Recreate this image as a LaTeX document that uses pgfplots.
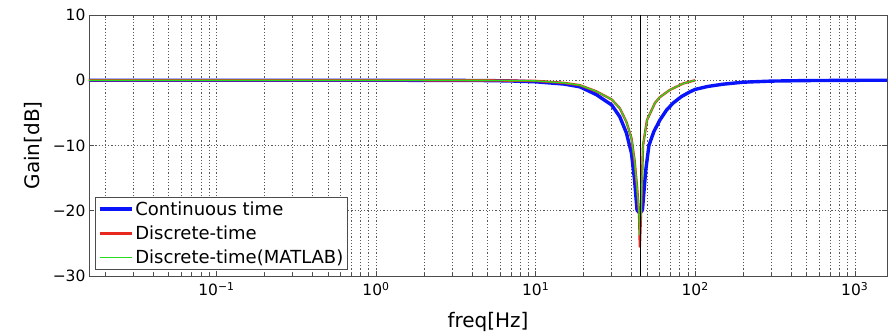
\documentclass[border=0pt]{standalone}
\usepackage{fontspec}
\setmainfont{DejaVu Sans}
\usepackage{pgfplots}
\pgfplotsset{compat=1.18}
\definecolor{cblue}{RGB}{10,20,250}
\definecolor{cred}{RGB}{232,40,30}
\definecolor{cgreen}{RGB}{40,220,30}
\begin{document}
\begin{tikzpicture}
\begin{axis}[
  scale only axis, width=798pt, height=261pt,
  xmode=log, xmin=0.0159155, xmax=1591.55, ymin=-30, ymax=10,
  xtick={0.1,1,10,100,1000},
  xticklabels={10\textsuperscript{−1},10\textsuperscript{0},10\textsuperscript{1},10\textsuperscript{2},10\textsuperscript{3}},
  minor xtick={0.02,0.03,0.04,0.05,0.06,0.07,0.08,0.09,0.2,0.3,0.4,0.5,0.6,0.7,0.8,0.9,2,3,4,5,6,7,8,9,20,30,40,50,60,70,80,90,200,300,400,500,600,700,800,900},
  ytick={-30,-20,-10,0,10},
  yticklabels={−30,−20,−10,0,10},
  grid=both,
  major grid style={black!65, line width=0.6pt, dash pattern=on 1.2pt off 2pt},
  minor grid style={black!65, line width=0.6pt, dash pattern=on 1.2pt off 2pt},
  tick align=inside, tick pos=both,
  major tick length=5pt, minor tick length=3pt,
  every tick/.style={black!70, line width=0.6pt},
  axis line style={black!70, line width=0.9pt},
  tick label style={font=\fontsize{15.5}{15.5}\selectfont},
  xticklabel style={yshift=-3pt},
  xlabel={freq[Hz]}, ylabel={Gain[dB]},
  label style={font=\fontsize{20}{20}\selectfont},
  xlabel style={yshift=-9pt},
  ylabel style={yshift=4pt},
  legend cell align=left,
  legend style={at={(rel axis cs:0.0075,0.023)}, anchor=south west,
    draw=black!70, line width=0.8pt, font=\fontsize{18}{18}\selectfont,
    inner sep=2.5pt, row sep=5pt},
  legend image code/.code={\draw[#1] (0pt,0pt) -- (32pt,0pt);},
]
\coordinate (bl) at (rel axis cs:0,0);
\coordinate (tr) at (rel axis cs:1,1);
\addplot[cblue, line width=3.4pt, line join=round] coordinates {
(0.0159155,0) (0.1,0) (1,0) (3,-0.02) (5,-0.05) (7,-0.11) (10,-0.24) (15,-0.58)
(18.9,-1.0) (24,-2.2) (30,-3.8) (33.7,-5.6) (37.1,-8.1) (39.9,-11.2) (41.7,-15.3)
(43.2,-19.9) (45,-20.4) (46.7,-19.9) (49,-13.8) (51.3,-10) (55,-7.9) (60.1,-6.1)
(66,-4.6) (72.7,-3.5) (82,-2.5) (92.3,-1.8) (100,-1.4) (120,-0.95) (150,-0.6)
(200,-0.3) (300,-0.13) (500,-0.05) (1000,-0.01) (1591.55,0)
};
\addlegendentry{Continuous time}
\addplot[cred, line width=2.4pt, line join=round] coordinates {
(0.0159155,0) (0.1,0) (1,0) (5,-0.02) (10,-0.1) (15,-0.4) (18.9,-0.75) (24,-1.7)
(30,-2.95) (33.7,-4.3) (37.1,-6.4) (39.9,-8.9) (41.7,-12.3) (43.2,-16.3) (44.5,-20.4)
(45,-25.5) (45.8,-20.2) (47.1,-10) (49.9,-6.1) (55.9,-3.5) (60,-2.6) (69.2,-1.5)
(84,-0.5) (95,-0.15) (100,0)
};
\addlegendentry{Discrete-time}
\addplot[cgreen, line width=1.3pt, line join=round] coordinates {
(0.0159155,0) (0.1,0) (1,0) (5,-0.02) (10,-0.1) (15,-0.4) (18.9,-0.75) (24,-1.7)
(30,-2.95) (33.7,-4.3) (37.1,-6.4) (39.9,-8.9) (41.7,-12.3) (43.2,-16.3) (44.5,-20.4)
(45,-23.7) (45.8,-20.2) (47.1,-10) (49.9,-6.1) (55.9,-3.5) (60,-2.6) (69.2,-1.5)
(84,-0.5) (95,-0.15) (100,0)
};
\addlegendentry{Discrete-time(MATLAB)}
\addplot[black, line width=1pt, forget plot] coordinates {(45.5,-30) (45.5,10)};
\end{axis}
\pgfresetboundingbox
\path[use as bounding box] ([xshift=-89pt,yshift=-60pt]bl) rectangle ([xshift=2pt,yshift=15pt]tr);
\end{tikzpicture}
\end{document}
